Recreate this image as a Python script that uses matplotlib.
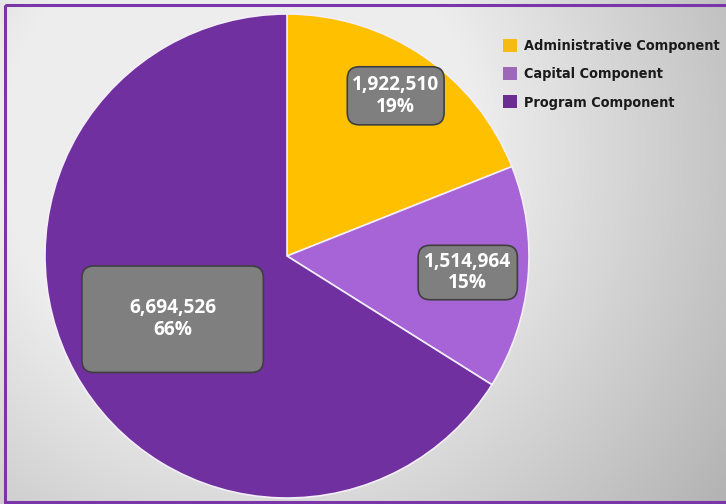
import numpy as np
import matplotlib
matplotlib.use("Agg")
import matplotlib.pyplot as plt
from matplotlib import font_manager as fm
from matplotlib.patches import Patch, FancyBboxPatch, Rectangle

categories = ["Administrative Component", "Capital Component", "Program Component"]
values = [1922510, 1514964, 6694526]
colors = ["#FFC000", "#A664D6", "#7030A0"]
legend_colors = ["#F5BA14", "#9E68B8", "#6B2D91"]

W, H = 726, 504
fig = plt.figure(figsize=(W / 100, H / 100), dpi=100)

# pick a condensed bold font for the legend if one exists
leg_prop = None
for f in fm.fontManager.ttflist:
    nm = (f.name + " " + f.fname).lower()
    if ("narrow" in nm or "condensed" in nm) and (f.weight in ("bold", 700) or "bold" in nm):
        leg_prop = fm.FontProperties(fname=f.fname, size=10.4)
        break
if leg_prop is None:
    leg_prop = fm.FontProperties(family="DejaVu Sans", weight="bold", size=9.5)

# background gradient
bg = fig.add_axes([0, 0, 1, 1], zorder=0)
yy, xx = np.mgrid[0:H, 0:W]
d = np.hypot(xx - 240, yy - 150)
v = np.clip(1.083 - 0.00064 * d, 0, 0.93)
bg.imshow(np.dstack([v, v, v]), extent=[0, W, H, 0], aspect="auto")
bg.set_xlim(0, W)
bg.set_ylim(H, 0)
bg.axis("off")
# purple frame
bg.add_patch(Rectangle((5, 5), W + 10, H - 7.5, fill=False, ec="#7A35A8", lw=2.2))

# pie
cx, cy, r = 287, 256, 242
ax = fig.add_axes([(cx - r) / W, (H - cy - r) / H, 2 * r / W, 2 * r / H], zorder=1)
wedges, _ = ax.pie(values, colors=colors, startangle=90, counterclock=False,
                   wedgeprops=dict(edgecolor="#F4EEF8", linewidth=1.2))
ax.set_xlim(-1, 1)
ax.set_ylim(-1, 1)
ax.set_aspect("equal")
ax.axis("off")

total = sum(values)
label_r = [0.80, 0.75, 0.54]
box_sizes = [(0.40, 0.24), (0.41, 0.225), (0.75, 0.44)]
for w, val, lr, (bw, bh) in zip(wedges, values, label_r, box_sizes):
    ang = np.deg2rad((w.theta1 + w.theta2) / 2)
    x, y = lr * np.cos(ang), lr * np.sin(ang)
    box = FancyBboxPatch((x - bw / 2, y - bh / 2), bw, bh,
                         boxstyle="round,pad=0,rounding_size=0.05",
                         fc="#7F7F7F", ec="#3F3F3F", lw=1.2, zorder=3)
    ax.add_patch(box)
    ax.text(x, y, f"{val:,}\n{val / total * 100:.0f}%", ha="center", va="center",
            color="white", fontsize=13.8, fontweight="bold", family="Open Sans",
            linespacing=1.1, zorder=4)

handles = [Patch(facecolor=c, edgecolor="none") for c in legend_colors]
leg = fig.legend(handles, categories, loc="upper left",
                 bbox_to_anchor=(497 / W, 1 - 33 / H), frameon=False,
                 prop=leg_prop,
                 handlelength=1.0, handleheight=1.0, handletextpad=0.5,
                 labelspacing=0.96, borderaxespad=0)
for t in leg.get_texts():
    t.set_color("#1a1a1a")

fig.savefig("out.png", dpi=100)
